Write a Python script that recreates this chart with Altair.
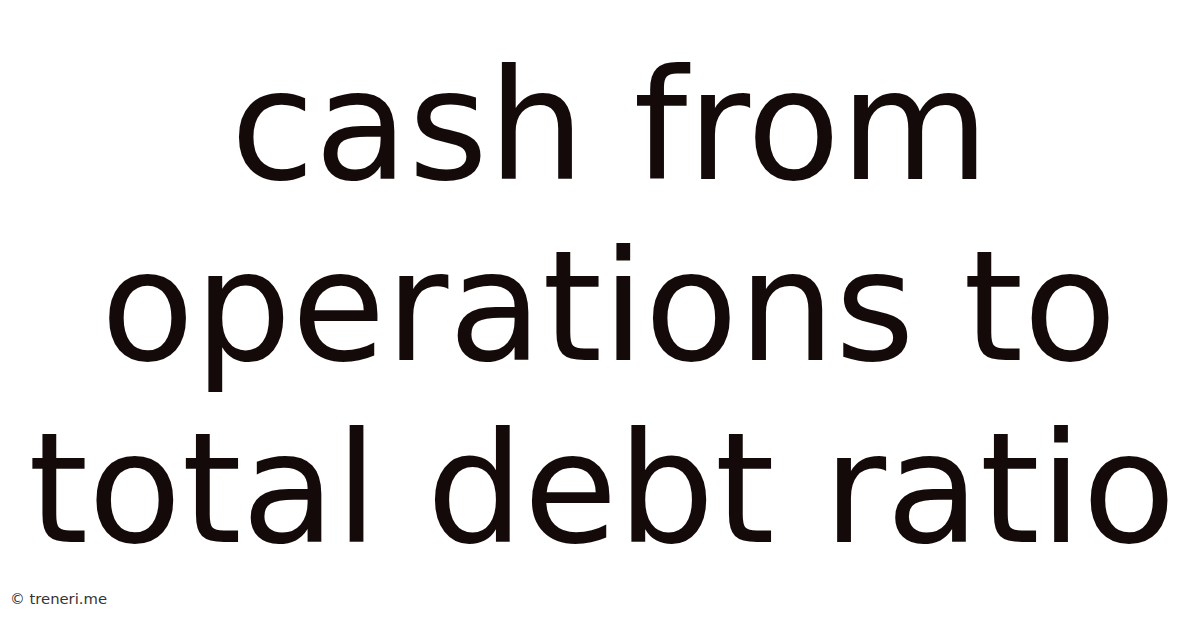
import altair as alt
import pandas as pd

# Text content
title_lines = ["cash from", "operations to", "total debt ratio"]
line_index = [0, 1, 2]
watermark_text = ["© treneri.me"]

title_df = pd.DataFrame({"line": title_lines, "row": line_index})
wm_df = pd.DataFrame({"label": watermark_text})

W, H = 1200, 628
OFF = 8  # page margin

base_y = alt.Y("row:Q", axis=None,
               scale=alt.Scale(domain=[0, 2], range=[177 - OFF, 545 - OFF]))

line_centers = [618, 617, 610]

layers = []
for i, cx in zip(line_index, line_centers):
    layers.append(
        alt.Chart(title_df).transform_filter(alt.datum.row == i).mark_text(
            font="DejaVu Sans",
            fontSize=155,
            color="#140a0a",
            align="center",
            baseline="alphabetic",
        ).encode(
            x=alt.value(cx - OFF),
            y=base_y,
            text="line:N",
        )
    )

watermark = alt.Chart(wm_df).mark_text(
    font="DejaVu Sans",
    fontSize=15,
    color="#333333",
    align="left",
    baseline="alphabetic",
).encode(
    x=alt.value(10 - OFF),
    y=alt.value(608 - OFF),
    text="label:N",
)

chart = alt.layer(*layers, watermark).properties(
    width=W, height=H, padding=0, background="white",
    autosize=alt.AutoSizeParams(type="none"),
).configure_view(stroke=None)

chart.save("out.html", embed_options={"renderer": "svg", "actions": False})
